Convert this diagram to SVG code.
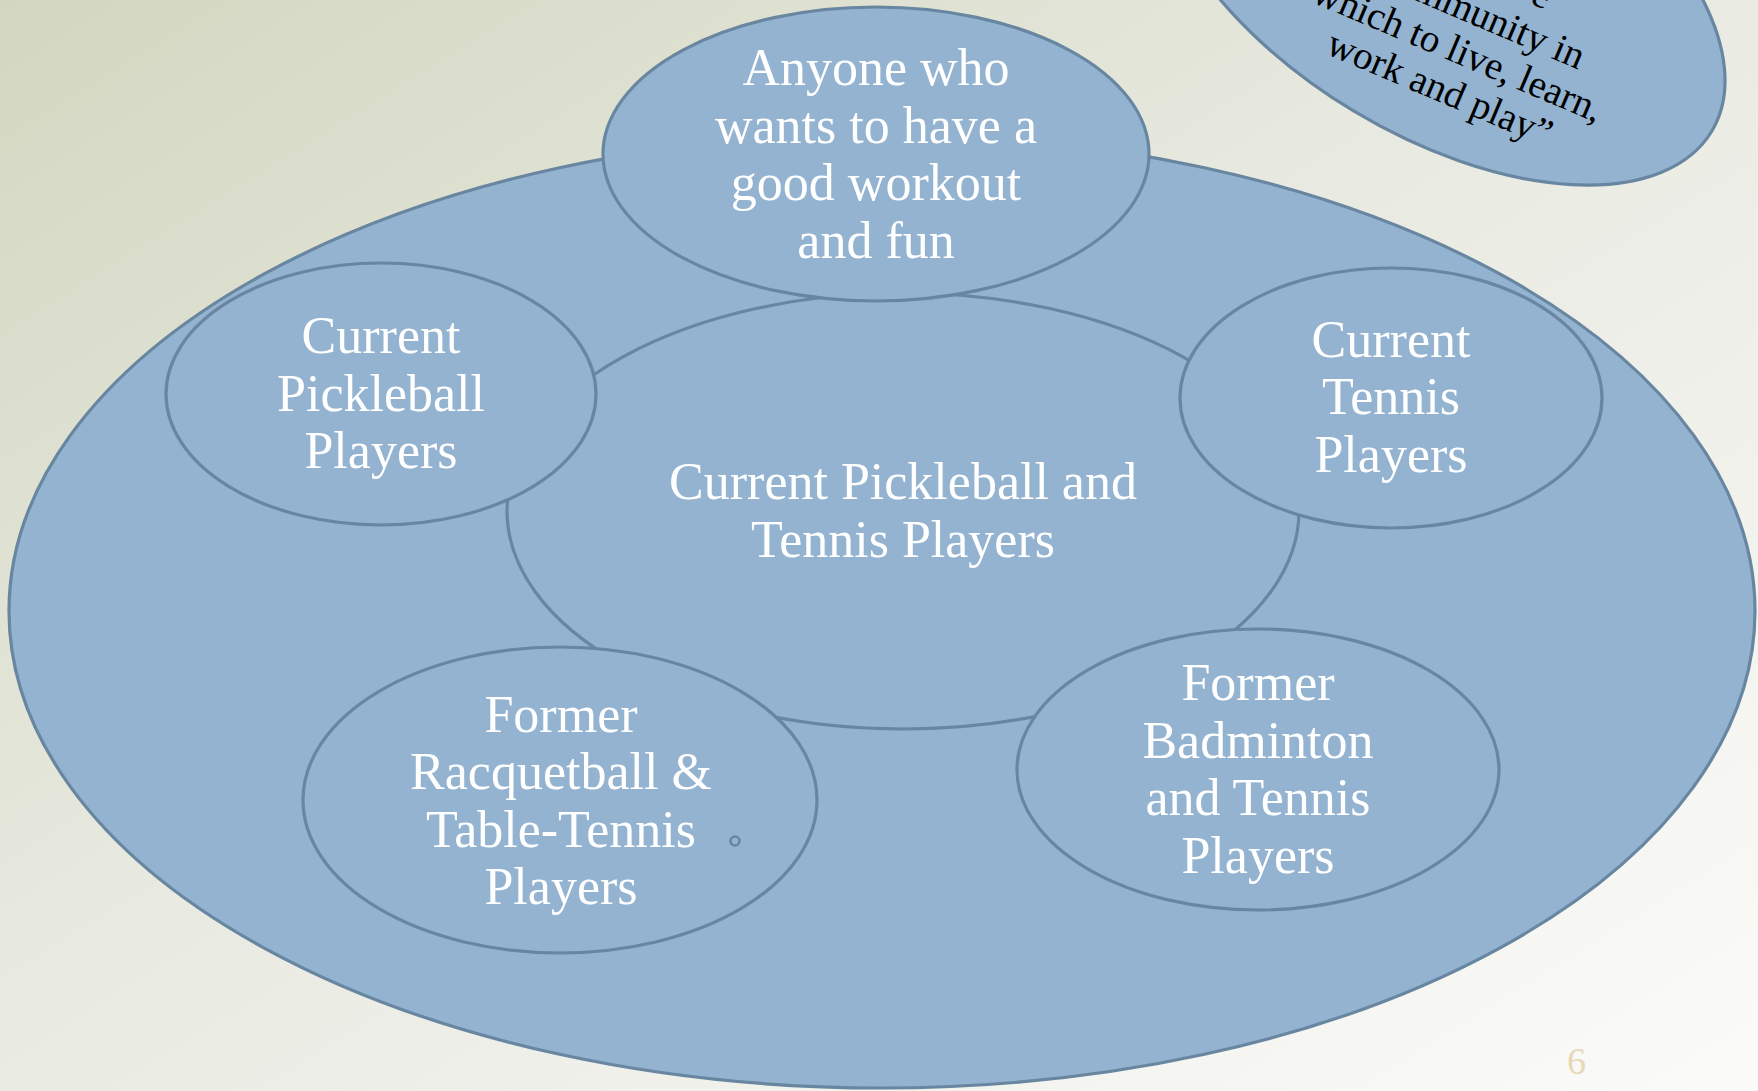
<svg xmlns="http://www.w3.org/2000/svg" width="1758" height="1091" viewBox="0 0 1758 1091">
  <defs>
    <linearGradient id="bg" x1="0" y1="0" x2="1" y2="1">
      <stop offset="0" stop-color="#d3d7c0"/>
      <stop offset="0.45" stop-color="#e8e9e0"/>
      <stop offset="1" stop-color="#fbfbf9"/>
    </linearGradient>
    <style>
      .sh { fill: #93b3d1; stroke: #6886a0; stroke-width: 3.2; }
      .lbl { font-family: "Liberation Serif", "DejaVu Serif", serif; font-size: 52px; fill: #ffffff; text-anchor: middle; }
      .q { font-family: "Liberation Serif", "DejaVu Serif", serif; font-size: 39px; fill: #000000; }
      .pg { font-family: "Liberation Serif", "DejaVu Serif", serif; font-size: 38px; fill: #e6d8b8; }
    </style>
  </defs>
  <rect x="0" y="0" width="1758" height="1091" fill="url(#bg)"/>

  <g id="mission">
    <ellipse class="sh" cx="1440" cy="-32" rx="317" ry="167" transform="rotate(31 1440 -32)"/>
    <g transform="translate(1435 100) rotate(23)">
      <text class="q" x="66" y="-126" text-anchor="end">e</text>
      <text class="q" x="120" y="-84" text-anchor="end">community in</text>
      <text class="q" x="2" y="-42" text-anchor="middle">which to live, learn,</text>
      <text class="q" x="0" y="0" text-anchor="middle">work and play”</text>
    </g>
  </g>

  <g id="outer">
    <ellipse class="sh" cx="882" cy="611" rx="873" ry="477"/>
  </g>

  <g id="central">
    <ellipse class="sh" cx="903" cy="511" rx="396" ry="218"/>
    <text class="lbl" x="903" y="499">Current Pickleball and</text>
    <text class="lbl" x="903" y="557">Tennis Players</text>
  </g>

  <g id="anyone">
    <ellipse class="sh" cx="876" cy="154" rx="273" ry="147"/>
    <text class="lbl" x="876" y="85">Anyone who</text>
    <text class="lbl" x="876" y="143">wants to have a</text>
    <text class="lbl" x="876" y="200">good workout</text>
    <text class="lbl" x="876" y="258">and fun</text>
  </g>

  <g id="pickleball">
    <ellipse class="sh" cx="381" cy="394" rx="215" ry="131"/>
    <text class="lbl" x="381" y="353">Current</text>
    <text class="lbl" x="381" y="411">Pickleball</text>
    <text class="lbl" x="381" y="468">Players</text>
  </g>

  <g id="tennis">
    <ellipse class="sh" cx="1391" cy="398" rx="211" ry="130"/>
    <text class="lbl" x="1391" y="357">Current</text>
    <text class="lbl" x="1391" y="414">Tennis</text>
    <text class="lbl" x="1391" y="472">Players</text>
  </g>

  <g id="racquetball">
    <ellipse class="sh" cx="560" cy="800" rx="257" ry="153"/>
    <text class="lbl" x="561" y="732">Former</text>
    <text class="lbl" x="561" y="789">Racquetball &amp;</text>
    <text class="lbl" x="561" y="847">Table-Tennis</text>
    <text class="lbl" x="561" y="904">Players</text>
    <circle cx="735" cy="841" r="4.5" fill="none" stroke="#6886a0" stroke-width="2.6"/>
  </g>

  <g id="badminton">
    <ellipse class="sh" cx="1258" cy="769.5" rx="241" ry="140.5"/>
    <text class="lbl" x="1258" y="700">Former</text>
    <text class="lbl" x="1258" y="758">Badminton</text>
    <text class="lbl" x="1258" y="815">and Tennis</text>
    <text class="lbl" x="1258" y="873">Players</text>
  </g>

  <g id="connectors"></g>

  <text class="pg" x="1567" y="1074">6</text>
</svg>
